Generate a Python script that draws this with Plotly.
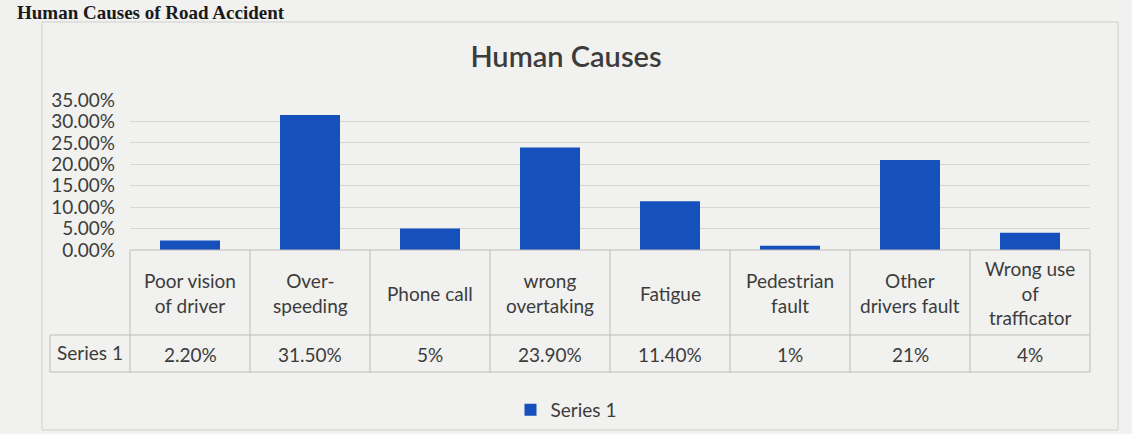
import plotly.graph_objects as go

categories = ["Poor vision<br>of driver", "Over-<br>speeding", "Phone call", "wrong<br>overtaking",
              "Fatigue", "Pedestrian<br>fault", "Other<br>drivers fault", "Wrong use<br>of<br>trafficator"]
values = [0.022, 0.315, 0.05, 0.239, 0.114, 0.01, 0.21, 0.04]
value_labels = ["2.20%", "31.50%", "5%", "23.90%", "11.40%", "1%", "21%", "4%"]
series_name = "Series 1"
y_ticks = [0, 0.05, 0.10, 0.15, 0.20, 0.25, 0.30, 0.35]

W, H = 1132, 434
ML, MR, MT, MB = 130, 42, 100, 184
PW, PH = W - ML - MR, H - MT - MB

def py(p):  # pixel y -> paper y
    return (H - MB - p) / PH

def dx(p):  # pixel x -> x domain / paper x
    return (p - ML) / PW

txt = "#3c3c3c"
grid = "#d6d6d6"
border = "#bcbcbc"
font = "Lato"
fs = 19

fig = go.Figure()
fig.add_trace(go.Bar(x=list(range(len(values))), y=values, name=series_name,
                     marker=dict(color="#1650bc", line=dict(width=0)), showlegend=True))

n = len(categories)
shapes = []
# outer chart border
shapes.append(dict(type="rect", xref="paper", yref="paper", x0=dx(42), x1=dx(1118),
                   y0=py(430), y1=py(22), line=dict(color="#cfcfcf", width=1), layer="below"))
# table horizontal lines
shapes.append(dict(type="line", xref="x domain", yref="paper", x0=0, x1=1, y0=0, y1=0,
                   line=dict(color=border, width=1)))
for yy in (335, 372):
    shapes.append(dict(type="line", xref="x domain", yref="paper", x0=dx(50), x1=1, y0=py(yy), y1=py(yy),
                       line=dict(color=border, width=1)))
# verticals
for k in range(n + 1):
    shapes.append(dict(type="line", xref="x domain", yref="paper", x0=k / n, x1=k / n, y0=0, y1=py(372),
                       line=dict(color=border, width=1)))
shapes.append(dict(type="line", xref="x domain", yref="paper", x0=dx(50), x1=dx(50), y0=py(335), y1=py(372),
                   line=dict(color=border, width=1)))

annotations = []
for i, (c, v) in enumerate(zip(categories, value_labels)):
    annotations.append(dict(xref="x domain", yref="paper", x=(i + 0.5) / n, y=py(293), text=c,
                            xanchor="center", align="center", yanchor="middle",
                            showarrow=False, font=dict(size=fs, color=txt, family=font)))
    annotations.append(dict(xref="x domain", yref="paper", x=(i + 0.5) / n, y=py(354), text=v,
                            xanchor="center", align="center", yanchor="middle",
                            showarrow=False, font=dict(size=fs, color=txt, family=font)))
annotations.append(dict(xref="x domain", yref="paper", x=dx(90), y=py(352), text=series_name,
                        xanchor="center", yanchor="middle",
                        showarrow=False, font=dict(size=fs, color=txt, family=font)))
# page heading at the very top of the photo
annotations.append(dict(xref="paper", yref="paper", x=dx(15), y=py(0), xanchor="left", yanchor="top",
                        text="<b>Human Causes of Road Accident</b>", showarrow=False,
                        font=dict(size=19, color="#1a1a1a", family="Liberation Serif")))

fig.update_layout(
    width=W, height=H,
    margin=dict(l=ML, r=MR, t=MT, b=MB, autoexpand=False),
    paper_bgcolor="#f1f1ef", plot_bgcolor="rgba(0,0,0,0)",
    title=dict(text="Human Causes", x=0.5, xref="container", y=1 - 57 / H, yref="container",
               xanchor="center", yanchor="middle",
               font=dict(size=29, color=txt, family=font, weight=600)),
    bargap=0.5,
    xaxis=dict(range=[-0.5, n - 0.5], showticklabels=False, showgrid=False, zeroline=False, fixedrange=True),
    yaxis=dict(range=[0, 0.35], tickvals=y_ticks, tickformat=".2%", showgrid=True, gridcolor=grid,
               gridwidth=1, zeroline=False, tickfont=dict(size=19, color=txt, family=font),
               ticks="", ticklabelstandoff=14),
    legend=dict(orientation="h", xref="container", yref="container", x=0.5, y=1 - 410 / H,
                xanchor="center", yanchor="middle", font=dict(size=19, color=txt, family=font),
                itemwidth=30, bgcolor="rgba(0,0,0,0)"),
    shapes=shapes, annotations=annotations,
)

fig.write_html("out.html", config={"displayModeBar": False},
               post_script="document.body.style.margin='0';")
